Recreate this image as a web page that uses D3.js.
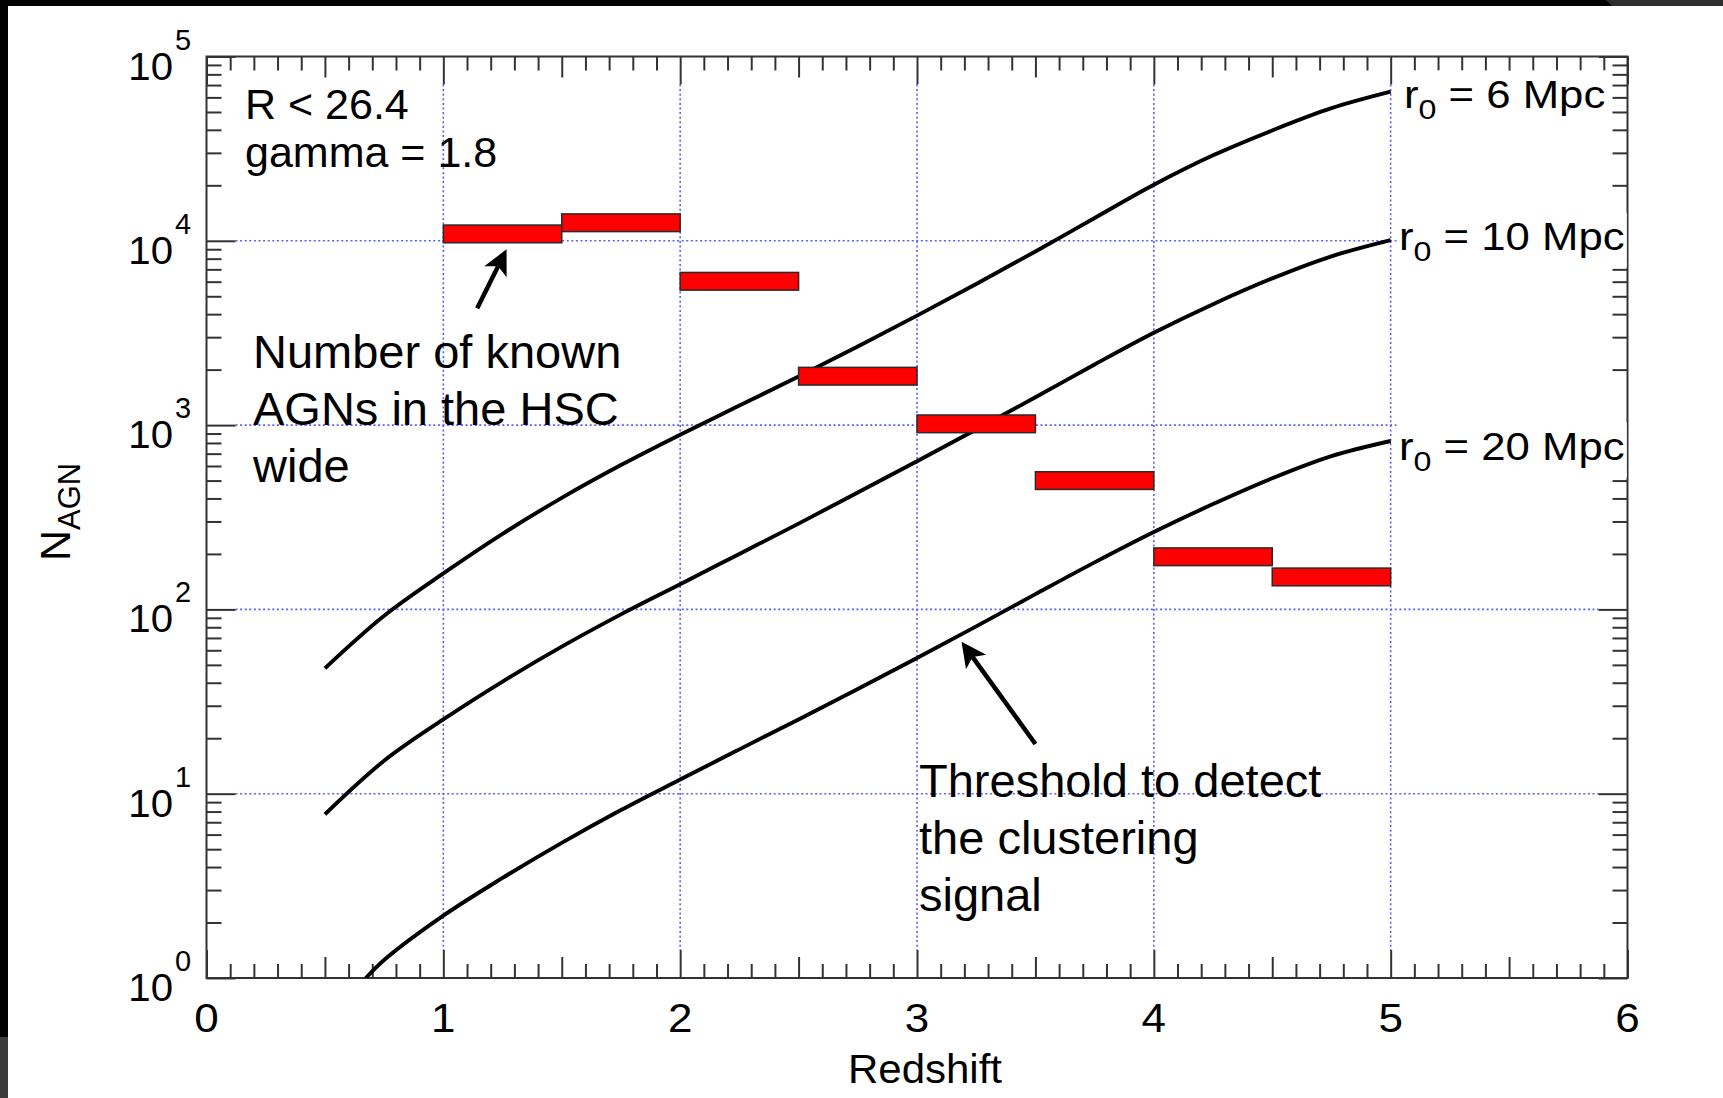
<!DOCTYPE html>
<html>
<head>
<meta charset="utf-8">
<script src="https://cdn.jsdelivr.net/npm/d3@7"></script>
<style>
  html, body { margin: 0; padding: 0; background: #fff; }
  svg { display: block; }
  text { font-family: "Liberation Sans", Arial, Helvetica, sans-serif; fill: #000; white-space: pre; }
</style>
</head>
<body>
<svg id="chart" width="1723" height="1098"></svg>
<script>
// ---- data -------------------------------------------------------------
// Redshift samples of the clustering-detection threshold curves
const zSamples = [0.5, 0.75, 1.0, 1.25, 1.5, 1.75, 2.0, 2.25, 2.5, 2.75, 3.0,
                  3.25, 3.5, 3.75, 4.0, 4.25, 4.5, 4.75, 5.0];
// r0 = 6 Mpc
const nR6  = [47.9, 92.3, 156.7, 257, 403, 607, 887, 1276, 1837, 2667, 3926,
              5834, 8750, 13300, 20140, 29100, 39700, 52400, 64400];
// r0 = 10 Mpc
const nR10 = [7.73, 15.1, 25.3, 40.6, 62.8, 94, 137, 200, 292, 431, 637,
              946, 1416, 2133, 3170, 4529, 6252, 8241, 10090];
// r0 = 20 Mpc (enters the plotted range at z ~ 0.67)
const zR20 = [0.673, 0.75, 1.0, 1.25, 1.5, 1.75, 2.0, 2.25, 2.5, 2.75, 3.0,
              3.25, 3.5, 3.75, 4.0, 4.25, 4.5, 4.75, 5.0];
const nR20 = [1.0, 1.253, 2.18, 3.49, 5.41, 8.15, 11.94, 17.4, 25.3, 37.0, 54.5,
              80.9, 121, 180, 263, 373, 515, 679, 820];
const r0Labels = ["6", "10", "20"];

// Known AGNs in the HSC wide survey, per redshift bin
const binLow  = [1.0, 1.5, 2.0, 2.5, 3.0, 3.5, 4.0, 4.5];
const binHigh = [1.5, 2.0, 2.5, 3.0, 3.5, 4.0, 4.5, 5.0];
const knownAGN = [10900, 12530, 6030, 1842, 1016, 500, 193, 150];

// Axis ticks
const xMajor = [0, 1, 2, 3, 4, 5, 6];
const xGrid = [1, 2, 3, 4, 5];
const yExponents = [0, 1, 2, 3, 4, 5];
const yGrid = [10, 100, 1000, 10000];

// Annotation arrows, in (redshift, N) coordinates
const arrowKnownFrom = [1.143, 4300], arrowKnownTo = [1.267, 8990];
const arrowThreshFrom = [3.50, 18.6], arrowThreshTo = [3.188, 66.8];

// ---- layout -----------------------------------------------------------
const W = 1723, H = 1098;
const X0 = 206.5, X1 = 1627.5, Y0 = 978, Y1 = 56.5;
const axisColor = "#333";

const svg = d3.select("#chart");
const x = d3.scaleLinear().domain([0, 6]).range([X0, X1]);
const y = d3.scaleLog().domain([1, 1e5]).range([Y0, Y1]);

// page background and dark window edges
svg.append("rect").attr("width", W).attr("height", H).attr("fill", "#fff");
svg.append("rect").attr("x", 0).attr("y", 0).attr("width", W).attr("height", 6).attr("fill", "#000");
svg.append("path").attr("d", "M1606,0L1723,0L1723,6L1612,6Z").attr("fill", "#2e2e2e");
svg.append("rect").attr("x", 0).attr("y", 0).attr("width", 8).attr("height", 1037).attr("fill", "#000");
svg.append("rect").attr("x", 0).attr("y", 1037).attr("width", 8).attr("height", H - 1037).attr("fill", "#3b3b3b");

svg.append("defs").append("clipPath").attr("id", "plotClip")
  .append("rect").attr("x", X0).attr("y", Y1).attr("width", X1 - X0).attr("height", Y0 - Y1);

// ---- grid -------------------------------------------------------------
const grid = svg.append("g")
  .attr("stroke", "#5c5cff").attr("stroke-width", 1.6).attr("stroke-dasharray", "2,2.6");
xGrid.forEach(v => grid.append("line")
  .attr("x1", x(v)).attr("x2", x(v)).attr("y1", Y1 + 28).attr("y2", Y0 - 28));
yGrid.forEach(v => grid.append("line")
  .attr("x1", X0 + 29).attr("x2", X1 - 29).attr("y1", y(v)).attr("y2", y(v)));

// ---- ticks ------------------------------------------------------------
function styleAxis(g) {
  g.select(".domain").remove();
  g.selectAll(".tick line").attr("stroke", axisColor).attr("stroke-width", 2);
  g.selectAll(".tick text").remove();
}
const tenths = d3.range(0, 61);
const xMinor = tenths.filter(i => i % 5 !== 0).map(i => i / 10);
const xHalf = tenths.filter(i => i % 5 === 0 && i % 10 !== 0).map(i => i / 10);
[[xMinor, 14], [xHalf, 21], [xMajor, 28]].forEach(([vals, len]) => {
  svg.append("g").attr("transform", `translate(0,${Y0})`)
    .call(d3.axisBottom(x).tickValues(vals).tickSize(-len).tickSizeOuter(0)).call(styleAxis);
  svg.append("g").attr("transform", `translate(0,${Y1})`)
    .call(d3.axisTop(x).tickValues(vals).tickSize(-len).tickSizeOuter(0)).call(styleAxis);
});
const yMajor = yExponents.map(e => Math.pow(10, e));
const yMinor = [];
yExponents.slice(0, -1).forEach(e => d3.range(2, 10).forEach(m => yMinor.push(m * Math.pow(10, e))));
[[yMinor, 15], [yMajor, 29]].forEach(([vals, len]) => {
  svg.append("g").attr("transform", `translate(${X0},0)`)
    .call(d3.axisLeft(y).tickValues(vals).tickSize(-len).tickSizeOuter(0)).call(styleAxis);
  svg.append("g").attr("transform", `translate(${X1},0)`)
    .call(d3.axisRight(y).tickValues(vals).tickSize(-len).tickSizeOuter(0)).call(styleAxis);
});

// frame
svg.append("rect").attr("x", X0).attr("y", Y1).attr("width", X1 - X0).attr("height", Y0 - Y1)
  .attr("fill", "none").attr("stroke", axisColor).attr("stroke-width", 2);

// ---- model curves ------------------------------------------------------
const line = d3.line().x(d => x(d[0])).y(d => y(d[1])).curve(d3.curveCatmullRom.alpha(0.5));
const curves = [
  d3.zip(zSamples, nR6),
  d3.zip(zSamples, nR10),
  d3.zip(zR20, nR20)
];
svg.append("g").attr("clip-path", "url(#plotClip)")
  .selectAll("path").data(curves).join("path")
  .attr("d", line).attr("fill", "none").attr("stroke", "#000")
  .attr("stroke-width", 3.9).attr("stroke-linejoin", "round").attr("stroke-linecap", "butt");

// ---- known AGN bars ----------------------------------------------------
const barHalf = 8.85;
svg.append("g").selectAll("rect").data(knownAGN).join("rect")
  .attr("x", (d, i) => x(binLow[i]))
  .attr("width", (d, i) => x(binHigh[i]) - x(binLow[i]))
  .attr("y", d => y(d) - barHalf)
  .attr("height", barHalf * 2)
  .attr("fill", "#ff0000").attr("stroke", "#2a2a2a").attr("stroke-width", 1.5);

// ---- r0 labels at the curve ends --------------------------------------
const r0Pos = [[1404, 108], [1399, 250], [1399, 460]];
r0Labels.forEach((lab, i) => {
  const g = svg.append("g").attr("transform", `translate(${r0Pos[i][0]},${r0Pos[i][1]}) scale(1.15,1)`);
  const t = g.append("text").attr("font-size", 38);
  t.append("tspan").text("r");
  t.append("tspan").attr("font-size", 28).attr("dy", 11).text("0");
  t.append("tspan").attr("dy", -11).text(` = ${lab} Mpc`);
  const b = t.node().getBBox();
  g.insert("rect", "text").attr("x", b.x - 2).attr("y", b.y - 3)
    .attr("width", b.width + 4).attr("height", b.height + 4).attr("fill", "#fff");
});

// ---- axis labels -------------------------------------------------------
yExponents.forEach(e => {
  const ty = y(Math.pow(10, e));
  svg.append("text").attr("transform", `translate(173,${ty + 23}) scale(1.03,1)`)
    .attr("text-anchor", "end").attr("font-size", 39).text("10");
  svg.append("text").attr("x", 175).attr("y", ty - 7).attr("font-size", 29).text(e);
});
xMajor.forEach(v => {
  svg.append("text").attr("transform", `translate(${x(v)},1032) scale(1.1,1)`)
    .attr("text-anchor", "middle").attr("font-size", 40).text(v);
});
svg.append("text").attr("transform", "translate(925,1083) scale(1.05,1)")
  .attr("text-anchor", "middle").attr("font-size", 40).text("Redshift");

const yTitle = svg.append("text").attr("transform", "translate(70,561) rotate(-90)").attr("font-size", 43);
yTitle.append("tspan").text("N");
yTitle.append("tspan").attr("font-size", 31).attr("dy", 9.5).text("AGN");

// ---- annotations -------------------------------------------------------
function arrow(from, to) {
  const xa = x(from[0]), ya = y(from[1]), xb = x(to[0]), yb = y(to[1]);
  const dx = xb - xa, dy = yb - ya, L = Math.hypot(dx, dy);
  const ux = dx / L, uy = dy / L, px = -uy, py = ux;
  const hl = 25, hw = 12.5, notch = 19;
  const bx = xb - ux * hl, by = yb - uy * hl;
  const nx = xb - ux * notch, ny = yb - uy * notch;
  svg.append("line").attr("x1", xa).attr("y1", ya).attr("x2", nx).attr("y2", ny)
    .attr("stroke", "#000").attr("stroke-width", 4.5);
  svg.append("path")
    .attr("d", `M${xb},${yb}L${bx + px * hw},${by + py * hw}L${nx},${ny}L${bx - px * hw},${by - py * hw}Z`)
    .attr("fill", "#000");
}
arrow(arrowKnownFrom, arrowKnownTo);
arrow(arrowThreshFrom, arrowThreshTo);

svg.append("text").attr("x", 245).attr("y", 118.5).attr("font-size", 43).text("R < 26.4");
svg.append("text").attr("x", 245).attr("y", 167).attr("font-size", 43).text("gamma = 1.8");

["Number of known", "AGNs in the HSC", "wide"].forEach((s, i) =>
  svg.append("text").attr("x", 253).attr("y", 368 + i * 57).attr("font-size", 47).text(s));
["Threshold to detect", "the clustering", "signal"].forEach((s, i) =>
  svg.append("text").attr("x", 919).attr("y", 797 + i * 57).attr("font-size", 47).text(s));
</script>
</body>
</html>
